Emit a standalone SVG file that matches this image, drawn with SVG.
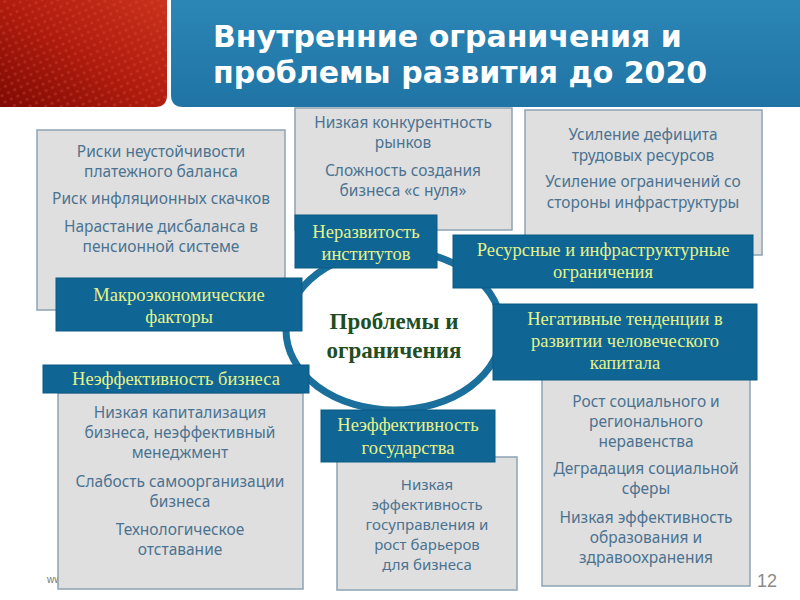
<svg xmlns="http://www.w3.org/2000/svg" width="800" height="600" viewBox="0 0 800 600">
<defs>
<linearGradient id="redg" x1="0" y1="1" x2="1" y2="0">
<stop offset="0" stop-color="#7e0a04"/>
<stop offset="0.5" stop-color="#b01c0e"/>
<stop offset="1" stop-color="#c9321c"/>
</linearGradient>
<pattern id="dots" width="7" height="7" patternUnits="userSpaceOnUse" patternTransform="rotate(-25)">
<circle cx="3.5" cy="3.5" r="1.6" fill="#e0503a" fill-opacity="0.35"/>
</pattern>
<linearGradient id="blueg" x1="0" y1="0" x2="0" y2="1">
<stop offset="0" stop-color="#2b86b6"/>
<stop offset="1" stop-color="#1f74a5"/>
</linearGradient>
<style>
.gbox{fill:#dfdfdf;stroke:#8ea3b4;stroke-width:1.5}
.bbox{fill:#0f6593;stroke:#0c5a84;stroke-width:1}
.gt{font-family:"Noto Sans","DejaVu Sans",sans-serif;font-size:15.5px;fill:#4b7391;text-anchor:middle}
.gs{font-size:15px}
.bt{font-family:"Liberation Serif","Times New Roman",serif;font-size:18.5px;fill:#e4f28c;text-anchor:middle}
.title{font-family:"DejaVu Sans","Liberation Sans",sans-serif;font-weight:bold;font-size:30px;fill:#ffffff}
.ct{font-family:"Liberation Serif","Times New Roman",serif;font-weight:bold;font-size:23px;fill:#1f4d24;text-anchor:middle}
</style>
</defs>
<rect width="800" height="600" fill="#ffffff"/>
<g id="header">
<path d="M0 0 H167 V95 Q167 107 155 107 H0 Z" fill="url(#redg)"/>
<path d="M0 0 H167 V95 Q167 107 155 107 H0 Z" fill="url(#dots)"/>
<path d="M171 0 H800 V107 H183 Q171 107 171 95 Z" fill="url(#blueg)"/>
<text class="title" x="213" y="47">Внутренние ограничения и</text>
<text class="title" x="213" y="83">проблемы развития до 2020</text>
</g>
<g id="connectors">
<ellipse cx="394" cy="330" rx="108" ry="80" fill="#ffffff" stroke="#1a6f9c" stroke-width="7"/>
</g>
<g id="center">
<text class="ct" x="394" y="329">Проблемы и</text>
<text class="ct" x="394" y="358">ограничения</text>
</g>
<g id="macro">
<rect class="gbox" x="37" y="130" width="248" height="180"/>
<text class="gt" x="161" y="157">Риски неустойчивости</text>
<text class="gt" x="161" y="177">платежного баланса</text>
<text class="gt" x="161" y="204">Риск инфляционных скачков</text>
<text class="gt" x="161" y="232">Нарастание дисбаланса в</text>
<text class="gt" x="161" y="252">пенсионной системе</text>
<rect class="bbox" x="56" y="278" width="246" height="53"/>
<text class="bt" x="179" y="301">Макроэкономические</text>
<text class="bt" x="179" y="323">факторы</text>
</g>
<g id="institutions">
<rect class="gbox" x="295" y="108" width="217" height="122"/>
<text class="gt" x="403" y="128">Низкая конкурентность</text>
<text class="gt" x="403" y="148">рынков</text>
<text class="gt" x="403" y="176">Сложность создания</text>
<text class="gt" x="403" y="196">бизнеса «с нуля»</text>
<rect class="bbox" x="295" y="215" width="142" height="53"/>
<text class="bt" x="366" y="238">Неразвитость</text>
<text class="bt" x="366" y="260">институтов</text>
</g>
<g id="resources">
<rect class="gbox" x="525" y="110" width="237" height="145"/>
<text class="gt" x="643" y="140">Усиление дефицита</text>
<text class="gt" x="643" y="161">трудовых ресурсов</text>
<text class="gt" x="643" y="187">Усиление ограничений со</text>
<text class="gt" x="643" y="208">стороны инфраструктуры</text>
<rect class="bbox" x="453" y="235" width="300" height="53"/>
<text class="bt" x="603" y="256">Ресурсные и инфраструктурные</text>
<text class="bt" x="603" y="278">ограничения</text>
</g>
<g id="business">
<text x="47" y="583" font-family="Liberation Sans,sans-serif" font-size="10" fill="#777777">ww</text>
<rect class="gbox" x="58" y="393" width="245" height="196"/>
<text class="gt" x="180" y="418">Низкая капитализация</text>
<text class="gt" x="180" y="438">бизнеса, неэффективный</text>
<text class="gt" x="180" y="458">менеджмент</text>
<text class="gt" x="180" y="487">Слабость самоорганизации</text>
<text class="gt" x="180" y="507">бизнеса</text>
<text class="gt" x="180" y="535">Технологическое</text>
<text class="gt" x="180" y="555">отставание</text>
<rect class="bbox" x="43" y="365" width="266" height="28"/>
<text class="bt" x="176" y="385">Неэффективность бизнеса</text>
</g>
<g id="state">
<rect class="gbox" x="337" y="457" width="180" height="133"/>
<text class="gt gs" x="427" y="490">Низкая</text>
<text class="gt gs" x="427" y="510">эффективность</text>
<text class="gt gs" x="427" y="530">госуправления и</text>
<text class="gt gs" x="427" y="550">рост барьеров</text>
<text class="gt gs" x="427" y="570">для бизнеса</text>
<rect class="bbox" x="321" y="410" width="174" height="52"/>
<text class="bt" x="408" y="431">Неэффективность</text>
<text class="bt" x="408" y="454">государства</text>
</g>
<g id="human">
<rect class="gbox" x="542" y="378" width="208" height="208"/>
<text class="gt" x="646" y="407">Рост социального и</text>
<text class="gt" x="646" y="427">регионального</text>
<text class="gt" x="646" y="447">неравенства</text>
<text class="gt" x="646" y="474">Деградация социальной</text>
<text class="gt" x="646" y="494">сферы</text>
<text class="gt" x="646" y="523">Низкая эффективность</text>
<text class="gt" x="646" y="543">образования и</text>
<text class="gt" x="646" y="563">здравоохранения</text>
<rect class="bbox" x="493" y="304" width="264" height="76"/>
<text class="bt" x="625" y="325">Негативные тенденции в</text>
<text class="bt" x="625" y="347">развитии человеческого</text>
<text class="bt" x="625" y="369">капитала</text>
</g>
<text x="757" y="587" font-family="Liberation Sans,sans-serif" font-size="18" fill="#8a8a8a">12</text>
</svg>
